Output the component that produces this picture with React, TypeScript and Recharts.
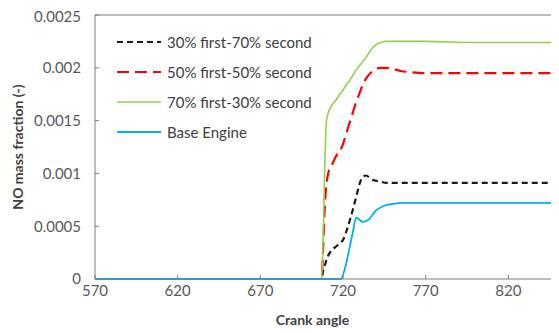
import React from 'react';
import { LineChart, Line, XAxis, YAxis, ReferenceLine, Legend } from 'recharts';

const angles = [570, 700, 707, 708, 709, 710, 711, 713, 716, 719, 720, 722, 724, 726, 728, 730, 732, 734, 736, 738, 740, 743, 746, 750, 755, 760, 770, 800, 850];

const split30_70 = [0, 0, 0, 0.00008, 0.00013, 0.00018, 0.00022, 0.00027, 0.00031, 0.00035, 0.00037, 0.00045, 0.00055, 0.00066, 0.00078, 0.0009, 0.00097, 0.00098, 0.00096, 0.00094, 0.00093, 0.00092, 0.00091, 0.00091, 0.00091, 0.00091, 0.00091, 0.00091, 0.00091];
const split50_50 = [0, 0, 0, 0.0003, 0.0007, 0.0009, 0.001, 0.00107, 0.00117, 0.00124, 0.00128, 0.00138, 0.00148, 0.00158, 0.00168, 0.00176, 0.00184, 0.0019, 0.00194, 0.00197, 0.00199, 0.002, 0.002, 0.00199, 0.00197, 0.00196, 0.00195, 0.00195, 0.00195];
const split70_30 = [0, 0, 0, 0.0004, 0.0011, 0.0015, 0.00157, 0.00164, 0.0017, 0.00177, 0.00179, 0.00184, 0.00188, 0.00193, 0.00198, 0.00202, 0.00206, 0.0021, 0.00215, 0.00219, 0.00222, 0.00224, 0.00225, 0.00225, 0.00225, 0.00225, 0.00225, 0.00224, 0.00224];
const baseEngine = [0, 0, 0, 0, 0, 0, 0, 0, 0, 0, 0.00004, 0.00015, 0.0003, 0.00045, 0.00058, 0.00056, 0.00054, 0.00055, 0.00057, 0.00061, 0.00065, 0.00068, 0.0007, 0.00071, 0.00072, 0.00072, 0.00072, 0.00072, 0.00072];

const xTicks = [570, 620, 670, 720, 770, 820];
const yTicks = [0, 0.0005, 0.001, 0.0015, 0.002, 0.0025];

const series = [
  { key: 's30', name: '30% first-70% second', color: '#1a1a1a', dash: '6 4', width: 2.2 },
  { key: 's50', name: '50% first-50% second', color: '#ff0000', dash: '12 6', width: 2.2 },
  { key: 's70', name: '70% first-30% second', color: '#92d050', dash: undefined, width: 1.6 },
  { key: 'base', name: 'Base Engine', color: '#00b0f0', dash: undefined, width: 1.8 },
];

const data = angles.map((a, i) => ({
  angle: a,
  s30: split30_70[i],
  s50: split50_50[i],
  s70: split70_30[i],
  base: baseEngine[i],
}));

const font = 'Lato, "Open Sans", sans-serif';

const renderLegend = () => (
  <div style={{ fontFamily: font, fontSize: 15, color: '#404040' }}>
    {series.map(s => (
      <div key={s.key} style={{ height: 30, display: 'flex', alignItems: 'center' }}>
        <svg width={46} height={10} style={{ marginRight: 4 }}>
          <line x1={0} y1={5} x2={44} y2={5} stroke={s.color} strokeWidth={s.width} strokeDasharray={s.dash} />
        </svg>
        <span>{s.name}</span>
      </div>
    ))}
  </div>
);

const App: React.FC = () => {
  return (
    <LineChart width={551} height={325} data={data} margin={{ top: 7, right: 1, bottom: 0, left: 0 }}>
      <XAxis
        dataKey="angle"
        type="number"
        domain={[570, 850]}
        ticks={xTicks}
        allowDataOverflow
        height={54}
        stroke="#7f7f7f"
        tickSize={-4}
        tickMargin={10}
        tick={{ fill: '#595959', fontSize: 15, fontFamily: font }}
        label={{ value: 'Crank angle', position: 'insideBottom', offset: 8, dx: -14, style: { fontFamily: font, fontSize: 14, fontWeight: 'bold', fill: '#404040' } }}
      />
      <YAxis
        type="number"
        domain={[0, 0.0025]}
        ticks={yTicks}
        width={87}
        stroke="#7f7f7f"
        tickSize={-4}
        tickMargin={18}
        tick={{ fill: '#595959', fontSize: 15, fontFamily: font }}
        label={{ value: 'NO mass fraction (-)', angle: -90, position: 'insideLeft', offset: 10, style: { textAnchor: 'middle', fontFamily: font, fontSize: 14, fontWeight: 'bold', fill: '#404040' } }}
      />
      <ReferenceLine y={0.0025} stroke="#7f7f7f" />
      <Legend
        layout="vertical"
        align="center"
        verticalAlign="middle"
        content={renderLegend}
        wrapperStyle={{ top: 19, left: 109, width: 260 }}
      />
      {series.map(s => (
        <Line
          key={s.key}
          dataKey={s.key}
          name={s.name}
          type="monotone"
          stroke={s.color}
          strokeWidth={s.width}
          strokeDasharray={s.dash}
          dot={false}
          isAnimationActive={false}
        />
      ))}
    </LineChart>
  );
};

export default App;
